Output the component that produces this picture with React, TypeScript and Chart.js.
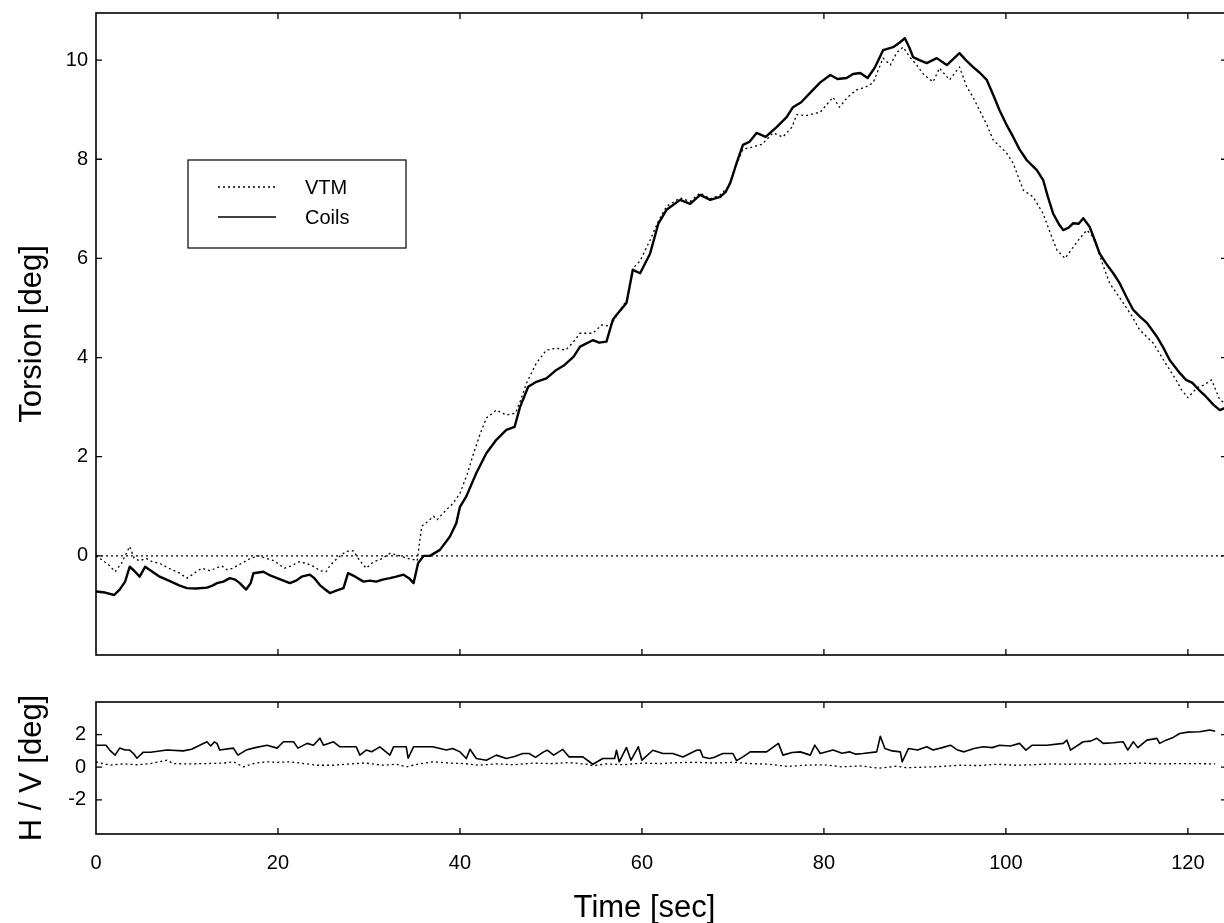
import React, { useEffect, useRef } from "react";
import { Chart, registerables } from "chart.js";

Chart.register(...registerables);

const FONT = "'Liberation Sans', Arial, Helvetica, sans-serif";

// ---------------- axes / ticks ----------------
const X_MIN = 0;
const X_MAX = 124.3;
const xTickValues = [0, 20, 40, 60, 80, 100, 120];
const torsionMin = -2;
const torsionMax = 10.95;
const torsionTicks = [0, 2, 4, 6, 8, 10];
const hvMin = -4.1;
const hvMax = 4.0;
const hvTicks = [-2, 0, 2];

// ---------------- top panel: torsion ----------------
const coilsT = [
  0, 1, 2, 2.6, 3.2, 3.7, 4.2, 4.8, 5.4, 6.2, 7, 8, 9.2, 10, 11, 12.2, 12.8, 13.3, 14, 14.7,
  15.3, 15.8, 16.5, 17, 17.3, 18.4, 19.2, 19.9, 20.6, 21.3, 22, 22.6, 23.5, 24, 24.6, 25.2, 25.7,
  26.4, 27.2, 27.7, 28.5, 29.4, 30.1, 30.8, 31.5, 32.3, 33, 33.8, 34.4, 34.9, 35.4, 36, 36.7,
  37.8, 38.9, 39.6, 40, 40.7, 41.8, 42.9, 44, 45.1, 46, 46.6, 47.5, 48.4, 49.5, 50.6, 51.5, 52.5,
  53.2, 54.6, 55.3, 56.1, 56.8, 57.2, 58.3, 59, 59.8, 60.9, 61.8, 62.7, 64.2, 65.3, 66.4, 67.5,
  68.6, 69.2, 69.7, 70.4, 71.1, 71.8, 72.6, 73.6, 74.8, 75.9, 76.6, 77.5, 78.8, 79.6, 80.7, 81.5,
  82.5, 83.2, 84, 84.8, 85.6, 86.5, 87.6, 88.3, 88.9, 89.4, 89.8, 90.5, 91.3, 92.4, 93.5, 94.2,
  94.9, 95.6, 96.4, 97.1, 97.9, 98.6, 99.3, 100, 100.8, 101.5, 102.3, 103.4, 104.1, 104.6, 105.2,
  105.8, 106.3, 106.9, 107.4, 108, 108.5, 109.2, 109.8, 110.3, 111, 111.8, 112.5, 113.3, 114,
  114.7, 115.5, 116.6, 117.3, 118, 119.1, 119.8, 120.5, 121.2, 122, 122.8, 123.5, 124.3,
];
const coilsV = [
  -0.72, -0.74, -0.79, -0.68, -0.52, -0.22, -0.3, -0.42, -0.22, -0.32, -0.42, -0.5, -0.6, -0.65,
  -0.66, -0.64, -0.6, -0.55, -0.52, -0.45, -0.48, -0.55, -0.68, -0.55, -0.35, -0.32, -0.4, -0.45,
  -0.5, -0.55, -0.5, -0.42, -0.38, -0.45, -0.59, -0.68, -0.75, -0.7, -0.65, -0.35, -0.42, -0.52,
  -0.5, -0.52, -0.48, -0.45, -0.42, -0.38, -0.45, -0.55, -0.15, 0.0, 0.0, 0.12, 0.39, 0.66, 0.99,
  1.2, 1.67, 2.07, 2.34, 2.54, 2.6, 3.0, 3.41, 3.51, 3.58, 3.75, 3.85, 4.02, 4.22, 4.35, 4.3, 4.32,
  4.76, 4.86, 5.1, 5.77, 5.7, 6.1, 6.7, 6.98, 7.18, 7.1, 7.28, 7.18, 7.24, 7.34, 7.52, 7.92, 8.29,
  8.35, 8.53, 8.45, 8.65, 8.85, 9.05, 9.15, 9.4, 9.55, 9.7, 9.62, 9.64, 9.72, 9.74, 9.64, 9.85,
  10.2, 10.26, 10.35, 10.44, 10.25, 10.06, 10.0, 9.94, 10.04, 9.9, 10.02, 10.14, 10.0, 9.86, 9.75,
  9.6, 9.3, 8.99, 8.72, 8.45, 8.2, 7.98, 7.78, 7.58, 7.25, 6.9, 6.7, 6.57, 6.62, 6.71, 6.7, 6.81,
  6.64, 6.35, 6.1, 5.9, 5.7, 5.5, 5.2, 4.96, 4.83, 4.7, 4.42, 4.2, 3.95, 3.69, 3.55, 3.49, 3.35,
  3.21, 3.05, 2.94, 3.0,
];

const vtmT = [
  0, 0.8, 1.5, 2.1, 2.8, 3.7, 4.2, 4.8, 5.5, 6.2, 7, 8, 9.2, 10, 10.8, 11.6, 12.5, 13.8, 14.4, 15,
  16, 17, 17.9, 18.7, 19.6, 20.7, 21.5, 22.3, 23.1, 24, 24.6, 25.3, 25.7, 26.5, 27.5, 28.3, 29,
  29.7, 30.3, 30.8, 31.5, 32.3, 33, 33.4, 34.2, 35, 35.3, 35.8, 36.5, 37.1, 37.5, 38.5, 39.2, 40,
  40.8, 41.5, 42.2, 42.9, 44, 45.1, 46.1, 46.7, 47.3, 48.4, 49.5, 50.6, 51.6, 52.4, 53.2, 54.6,
  55.6, 56.5, 57.6, 58.3, 59, 59.8, 60.9, 61.8, 62.7, 64.2, 65.3, 66.4, 67.5, 68.6, 69.5, 70.4,
  71.1, 72.2, 73.2, 74.4, 75.5, 76.5, 77, 78, 79.6, 81, 81.7, 82.6, 83.6, 84.5, 85.4, 86.5, 87.3,
  88, 88.7, 89.5, 90.2, 91, 92, 92.7, 93.8, 94.9, 95.7, 96.4, 97.1, 97.9, 98.6, 99.4, 100.1, 100.8,
  101.9, 103, 104.1, 104.8, 105.6, 106.5, 107.4, 108.1, 108.9, 109.5, 110, 110.7, 111.4, 112.9,
  113.8, 114.7, 116.2, 117.5, 118.7, 119.3, 120, 121, 121.8, 122.6, 123.5, 124.3,
];
const vtmV = [
  0.0, -0.1, -0.2, -0.32, -0.15, 0.19, -0.05, -0.1, -0.05, -0.12, -0.15, -0.25, -0.35, -0.45,
  -0.35, -0.25, -0.3, -0.2, -0.28, -0.25, -0.15, -0.05, 0.0, -0.05, -0.1, -0.25, -0.2, -0.12,
  -0.15, -0.22, -0.3, -0.32, -0.2, -0.05, 0.09, 0.1, -0.1, -0.25, -0.15, -0.1, -0.05, 0.05, 0.02,
  0.0, -0.05, -0.08, -0.1, 0.6, 0.7, 0.8, 0.73, 0.93, 1.05, 1.26, 1.65, 2.07, 2.45, 2.78, 2.94,
  2.84, 2.88, 3.15, 3.48, 3.89, 4.15, 4.19, 4.15, 4.3, 4.49, 4.49, 4.66, 4.63, 4.96, 5.15, 5.8,
  5.95, 6.37, 6.75, 7.05, 7.22, 7.15, 7.32, 7.2, 7.28, 7.45, 7.9, 8.2, 8.25, 8.3, 8.53, 8.45, 8.65,
  8.9, 8.88, 8.95, 9.25, 9.05, 9.25, 9.4, 9.45, 9.54, 10.04, 9.9, 10.15, 10.26, 10.05, 9.9, 9.7,
  9.56, 9.84, 9.6, 9.86, 9.46, 9.25, 8.99, 8.7, 8.39, 8.25, 8.12, 7.92, 7.38, 7.24, 6.9, 6.55,
  6.17, 6.0, 6.23, 6.4, 6.57, 6.45, 6.23, 5.85, 5.5, 5.1, 4.85, 4.56, 4.29, 3.9, 3.55, 3.35, 3.19,
  3.39, 3.45, 3.55, 3.15, 3.05,
];

const zeroT = [0, 124.3];
const zeroV = [0, 0];

// ---------------- bottom panel: H / V ----------------
const hT = [
  0, 1.1, 1.5, 2.1, 2.6, 3.2, 3.7, 4.1, 4.5, 5.2, 6, 7.8, 9.6, 10.5, 11.4, 12.2, 12.6, 13, 13.3,
  13.6, 15.1, 15.6, 16.5, 17.5, 18.8, 19.9, 20.6, 21.7, 22.2, 23.2, 23.9, 24.6, 25, 26.1, 26.8,
  28.6, 29, 29.7, 30.3, 31.2, 32.3, 32.7, 34.1, 34.3, 34.9, 37, 38.5, 39.2, 40, 40.7, 41.1, 41.8,
  42.9, 44, 45.1, 46, 46.9, 47.6, 48.3, 49.2, 49.6, 50.3, 51.3, 52, 53.5, 54.6, 55.7, 57, 57.2,
  57.5, 58.3, 58.8, 59.6, 60, 61.2, 62.3, 63.4, 64.5, 66, 66.4, 66.7, 67.4, 67.9, 68.9, 70, 70.4,
  71.1, 71.9, 73.7, 75, 75.5, 76.5, 77.4, 78.5, 79, 79.6, 81, 82, 82.8, 83.5, 84.3, 85.8, 86.2,
  86.7, 87.5, 88.4, 88.6, 89.3, 90.3, 91.3, 92, 93, 93.9, 94.7, 95.4, 96.5, 97.5, 98.5, 99.3,
  100.5, 101.5, 102.2, 102.9, 104.5, 106.3, 106.7, 107.1, 108.5, 109.3, 110, 110.7, 111.8, 112.9,
  113.4, 114, 114.5, 115.5, 116.6, 116.9, 117.6, 118.3, 119.1, 120, 121.3, 122.4, 123,
];
const hV = [
  1.35, 1.35, 1.05, 0.74, 1.17, 1.05, 1.05, 0.85, 0.55, 0.92, 0.92, 1.05, 1.0, 1.1, 1.35, 1.56,
  1.3, 1.55, 1.46, 1.05, 1.17, 0.74, 1.05, 1.2, 1.35, 1.17, 1.56, 1.56, 1.17, 1.46, 1.35, 1.78,
  1.35, 1.56, 1.25, 1.25, 0.74, 1.05, 0.95, 1.25, 0.74, 1.25, 1.25, 0.55, 1.25, 1.25, 1.05, 1.15,
  0.94, 0.53, 1.1, 0.53, 0.43, 0.74, 0.53, 0.65, 0.84, 0.84, 0.6, 0.94, 1.04, 0.74, 1.09, 0.63,
  0.63, 0.18, 0.53, 0.53, 1.04, 0.33, 1.21, 0.43, 1.25, 0.43, 1.04, 0.84, 0.84, 0.63, 1.04, 1.05,
  0.63, 0.53, 0.6, 0.84, 0.84, 0.4, 0.63, 0.94, 0.94, 1.46, 0.74, 0.9, 0.94, 0.74, 1.35, 0.84,
  1.05, 0.85, 0.94, 0.8, 0.84, 0.94, 1.9, 1.15, 1.0, 0.94, 0.33, 1.15, 1.05, 1.25, 1.05, 1.2,
  1.35, 1.05, 0.94, 1.15, 1.25, 1.2, 1.35, 1.3, 1.46, 1.05, 1.35, 1.35, 1.46, 1.66, 1.05, 1.56,
  1.6, 1.77, 1.46, 1.5, 1.56, 1.05, 1.56, 1.2, 1.66, 1.77, 1.46, 1.66, 1.8, 2.07, 2.15, 2.17,
  2.28, 2.2,
];

const vT = [
  0, 1.5, 3, 4.5, 6, 7.8, 8.5, 10, 12, 14, 15.1, 16.2, 17.5, 18.8, 20, 21.3, 22.5, 24.3, 26, 28,
  29.5, 31.5, 33, 34.1, 35.5, 37, 39, 40.5, 42, 44, 46, 48, 50, 52, 54, 54.6, 56, 58, 60, 62, 64,
  66, 68, 70, 72, 74, 76, 78, 80, 82, 84, 86, 88, 89, 91, 93, 95, 97, 99, 101, 103, 105, 107, 109,
  111, 113, 115, 117, 119, 121, 123,
];
const vV = [
  0.33, 0.12, 0.2, 0.15, 0.22, 0.43, 0.22, 0.2, 0.22, 0.25, 0.33, 0.02, 0.25, 0.33, 0.3, 0.33,
  0.25, 0.12, 0.12, 0.2, 0.26, 0.12, 0.18, 0.02, 0.2, 0.33, 0.25, 0.22, 0.12, 0.2, 0.15, 0.25,
  0.22, 0.28, 0.18, 0.08, 0.2, 0.15, 0.25, 0.22, 0.28, 0.3, 0.25, 0.3, 0.22, 0.18, 0.05, 0.12,
  0.15, 0.02, 0.08, -0.06, 0.06, -0.03, 0.0, 0.05, 0.12, 0.1, 0.18, 0.12, 0.15, 0.2, 0.18, 0.2,
  0.18, 0.22, 0.25, 0.2, 0.22, 0.22, 0.2,
];

const legendLabels = ["VTM", "Coils"];
const torsionTitle = "Torsion [deg]";
const hvTitle = "H / V [deg]";
const timeTitle = "Time [sec]";

const pts = (t: number[], v: number[]) => t.map((x, i) => ({ x, y: v[i] }));

const DOT = [2, 3];

const framePlugin = {
  id: "frame",
  afterDatasetsDraw(chart: any, _args: any, opts: any) {
    const { ctx, chartArea: a, scales } = chart;
    ctx.save();
    ctx.strokeStyle = "#000";
    ctx.lineWidth = 1.6;
    ctx.setLineDash([]);
    ctx.strokeRect(a.left, a.top, a.right - a.left, a.bottom - a.top);
    ctx.lineWidth = 1.3;
    const L = 6;
    ctx.beginPath();
    for (const v of opts.xTicks) {
      const px = scales.x.getPixelForValue(v);
      if (px <= a.left + 1 || px >= a.right - 1) continue;
      ctx.moveTo(px, a.top);
      ctx.lineTo(px, a.top + L);
      ctx.moveTo(px, a.bottom);
      ctx.lineTo(px, a.bottom - L);
    }
    for (const v of opts.yTicks) {
      const py = scales.y.getPixelForValue(v);
      ctx.moveTo(a.left, py);
      ctx.lineTo(a.left + L, py);
      ctx.moveTo(a.right, py);
      ctx.lineTo(a.right - L, py);
    }
    ctx.stroke();

    ctx.fillStyle = "#000";
    // y title
    ctx.save();
    ctx.font = `31px ${FONT}`;
    ctx.textAlign = "center";
    ctx.textBaseline = "alphabetic";
    ctx.translate(41, (a.top + a.bottom) / 2);
    ctx.rotate(-Math.PI / 2);
    ctx.fillText(opts.yTitle, 0, 0);
    ctx.restore();

    if (opts.xTitle) {
      ctx.font = `31px ${FONT}`;
      ctx.textAlign = "center";
      ctx.textBaseline = "alphabetic";
      ctx.fillText(opts.xTitle, (a.left + a.right) / 2 - 17, chart.height - 6);
    }

    if (opts.legend) {
      const bx = a.left + 92;
      const by = a.top + 147;
      const bw = 218;
      const bh = 88;
      ctx.lineWidth = 1.2;
      ctx.strokeRect(bx, by, bw, bh);
      const rows = [
        { label: opts.legend[0], dash: DOT, w: 1.3, y: by + 27 },
        { label: opts.legend[1], dash: [], w: 1.6, y: by + 57 },
      ];
      ctx.font = `20px ${FONT}`;
      ctx.textAlign = "left";
      ctx.textBaseline = "middle";
      for (const r of rows) {
        ctx.beginPath();
        ctx.setLineDash(r.dash);
        ctx.lineWidth = r.w;
        ctx.moveTo(bx + 30, r.y);
        ctx.lineTo(bx + 88, r.y);
        ctx.stroke();
        ctx.setLineDash([]);
        ctx.fillText(r.label, bx + 117, r.y + 1);
      }
    }
    ctx.restore();
  },
};

function makeY(min: number, max: number, ticks: number[], pad: number) {
  return {
    type: "linear" as const,
    min,
    max,
    grid: { display: false, drawTicks: false },
    border: { display: false },
    ticks: {
      color: "#000",
      padding: pad,
      font: { family: FONT, size: 20 },
    },
    afterBuildTicks: (s: any) => {
      s.ticks = ticks.map((value) => ({ value }));
    },
    afterFit: (s: any) => {
      s.width = 96;
      s.paddingTop = 0;
      s.paddingBottom = 0;
    },
  };
}

export default function App() {
  const topRef = useRef<HTMLCanvasElement>(null);
  const botRef = useRef<HTMLCanvasElement>(null);

  useEffect(() => {
    document.body.style.overflow = "hidden";
    document.documentElement.style.overflow = "hidden";

    const common = {
      pointRadius: 0,
      tension: 0,
      borderColor: "#000",
      borderJoinStyle: "round" as const,
      fill: false,
    };

    const top = new Chart(topRef.current!, {
      type: "line",
      data: {
        datasets: [
          { ...common, label: "Coils", data: pts(coilsT, coilsV), borderWidth: 2.4 },
          { ...common, label: "VTM", data: pts(vtmT, vtmV), borderWidth: 1.3, borderDash: DOT },
          { ...common, label: "zero", data: pts(zeroT, zeroV), borderWidth: 1.2, borderDash: DOT },
        ],
      },
      options: {
        animation: false,
        responsive: false,
        maintainAspectRatio: false,
        events: [],
        layout: { padding: { left: 0, right: 5, top: 13, bottom: 25 } },
        scales: {
          x: { type: "linear", min: X_MIN, max: X_MAX, display: false },
          y: makeY(torsionMin, torsionMax, torsionTicks, 8),
        },
        plugins: {
          legend: { display: false },
          tooltip: { enabled: false },
          frame: { xTicks: xTickValues, yTicks: torsionTicks, yTitle: torsionTitle, legend: legendLabels },
        } as any,
      },
      plugins: [framePlugin],
    });

    const bot = new Chart(botRef.current!, {
      type: "line",
      data: {
        datasets: [
          { ...common, label: "H", data: pts(hT, hV), borderWidth: 1.6 },
          { ...common, label: "V", data: pts(vT, vV), borderWidth: 1.3, borderDash: DOT },
        ],
      },
      options: {
        animation: false,
        responsive: false,
        maintainAspectRatio: false,
        events: [],
        layout: { padding: { left: 0, right: 5, top: 22, bottom: 0 } },
        scales: {
          x: {
            type: "linear",
            min: X_MIN,
            max: X_MAX,
            grid: { display: false, drawTicks: false },
            border: { display: false },
            ticks: { color: "#000", padding: 17, font: { family: FONT, size: 20 }, maxRotation: 0 },
            afterBuildTicks: (s: any) => {
              s.ticks = xTickValues.map((value) => ({ value }));
            },
            afterFit: (s: any) => {
              s.height = 89;
            },
          },
          y: makeY(hvMin, hvMax, hvTicks, 10),
        },
        plugins: {
          legend: { display: false },
          tooltip: { enabled: false },
          frame: { xTicks: xTickValues, yTicks: hvTicks, yTitle: hvTitle, xTitle: timeTitle },
        } as any,
      },
      plugins: [framePlugin],
    });

    return () => {
      top.destroy();
      bot.destroy();
    };
  }, []);

  return (
    <div style={{ position: "absolute", left: 0, top: 0, width: 1232, height: 923, background: "#fff" }}>
      <canvas ref={topRef} width={1232} height={680} style={{ position: "absolute", left: 0, top: 0, width: 1232, height: 680 }} />
      <canvas ref={botRef} width={1232} height={243} style={{ position: "absolute", left: 0, top: 680, width: 1232, height: 243 }} />
    </div>
  );
}
